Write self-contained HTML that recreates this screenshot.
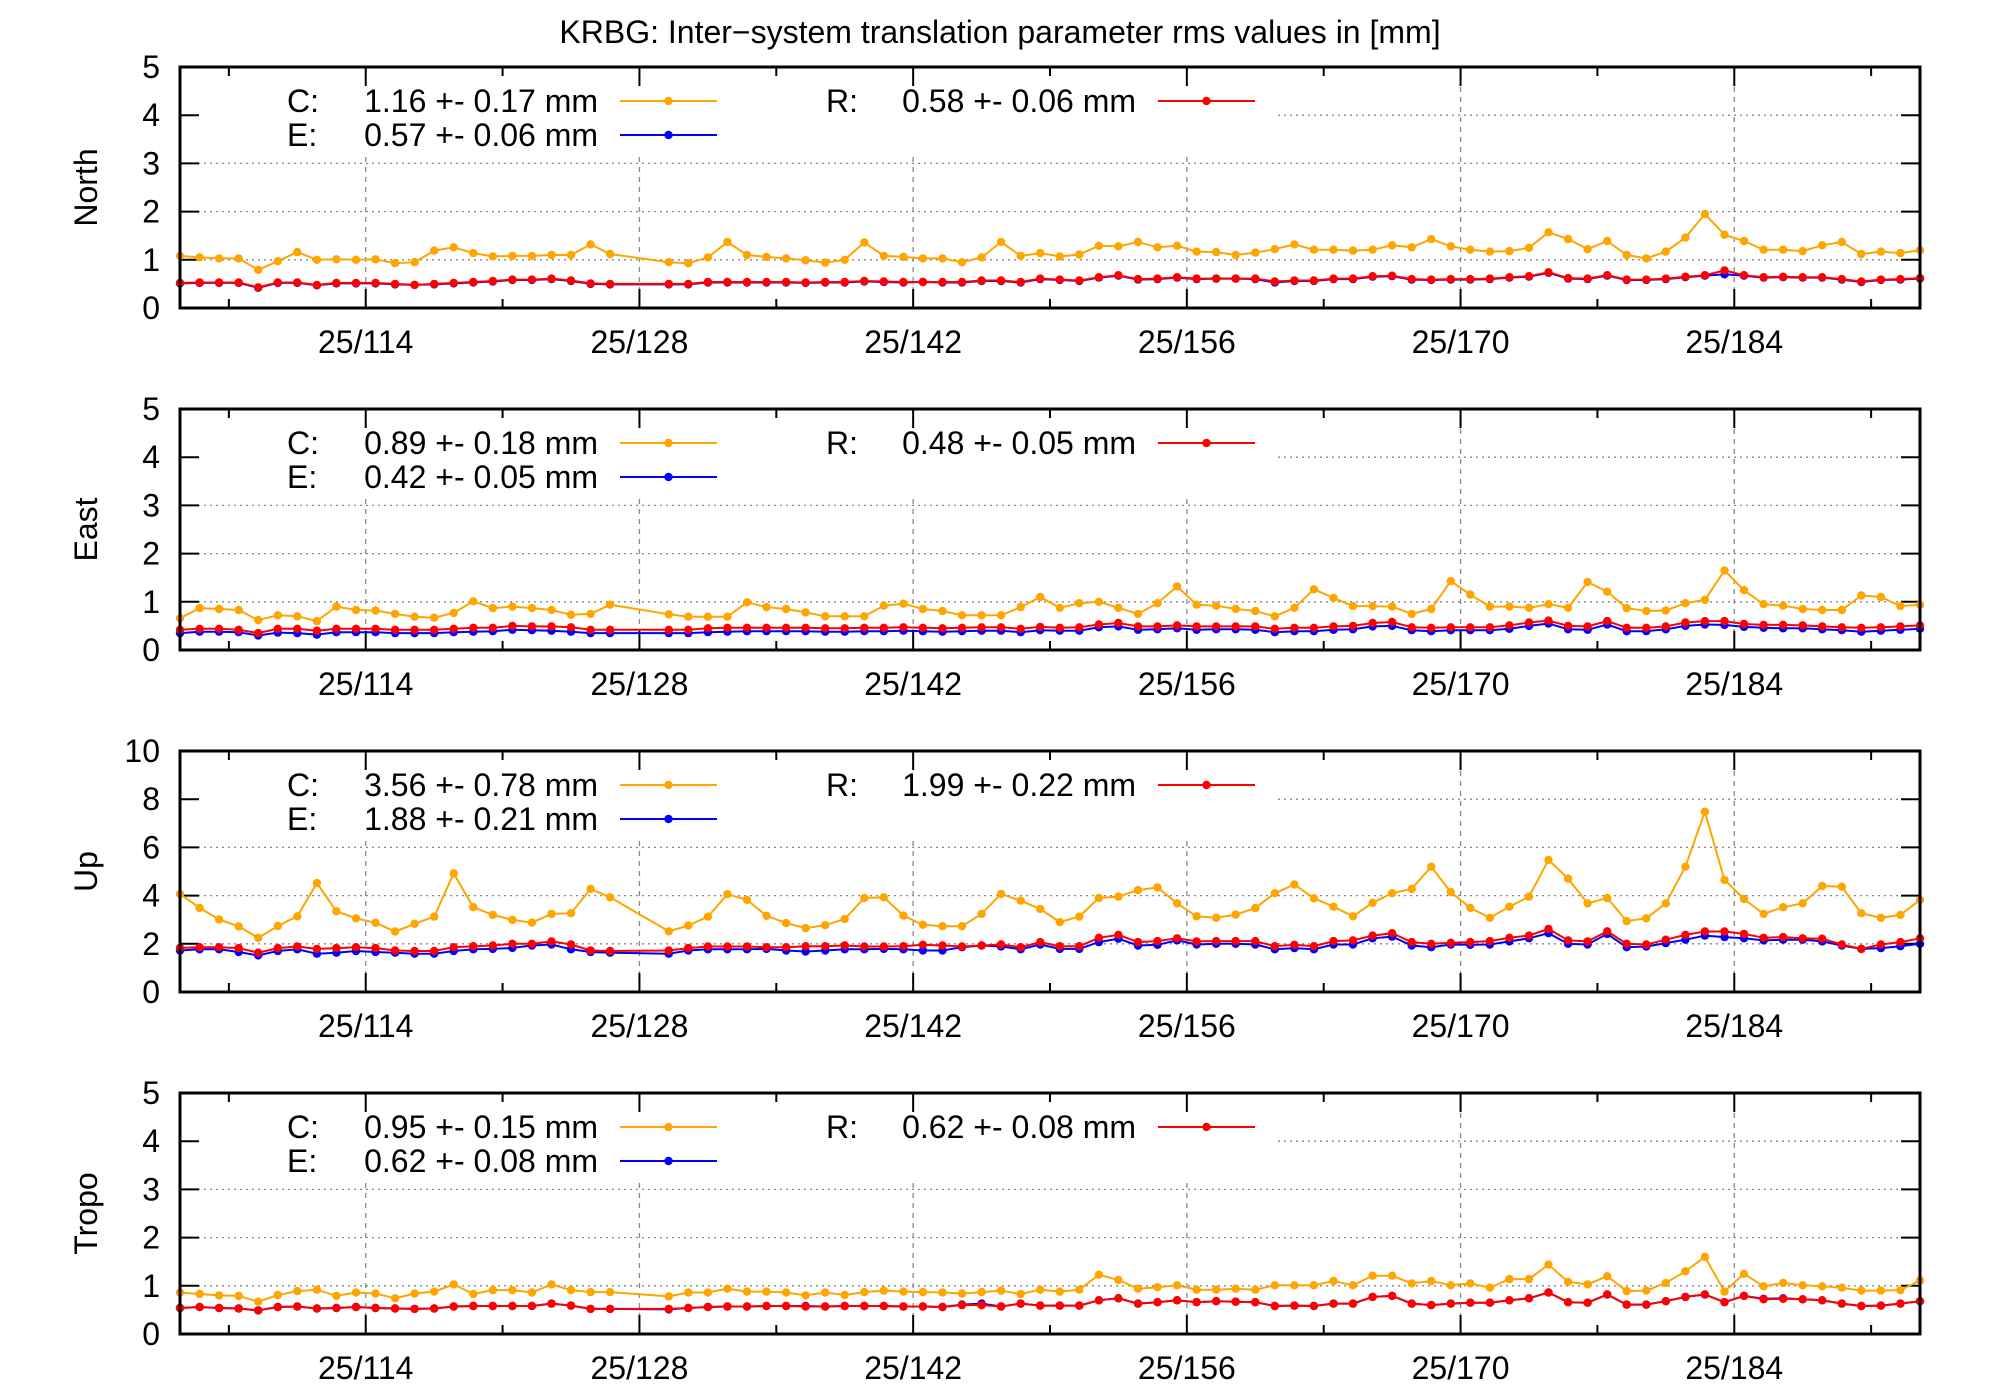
<!DOCTYPE html>
<html><head><meta charset="utf-8"><title>KRBG inter-system translation rms</title>
<style>html,body{margin:0;padding:0;background:#fff;}svg{display:block;font-family:"Liberation Sans",Arial,sans-serif;}</style>
</head><body>
<svg id="chart" width="2000" height="1400" viewBox="0 0 2000 1400" xmlns="http://www.w3.org/2000/svg">
<text x="1000" y="43" text-anchor="middle" font-size="32">KRBG: Inter−system translation parameter rms values in [mm]</text>
</svg>
<script>
const dayStart = 104.5;
const panelNames = ["North","East","Up","Tropo"];
const panelYMax = [5,5,10,5];
const panelYStep = [1,1,2,1];
const xTickDays = [114,128,142,156,170,184];
const xTickLabels = ["25/114","25/128","25/142","25/156","25/170","25/184"];
const xMinorDays = [107,121,135,149,163,177,191];
const legendC = ["1.16 +- 0.17 mm","0.89 +- 0.18 mm","3.56 +- 0.78 mm","0.95 +- 0.15 mm"];
const legendE = ["0.57 +- 0.06 mm","0.42 +- 0.05 mm","1.88 +- 0.21 mm","0.62 +- 0.08 mm"];
const legendR = ["0.58 +- 0.06 mm","0.48 +- 0.05 mm","1.99 +- 0.22 mm","0.62 +- 0.08 mm"];

const northC = [1.08,1.05,1.03,1.03,0.79,0.97,1.16,1.00,1.01,1.00,1.01,0.93,0.95,1.19,1.26,1.14,1.07,1.08,1.08,1.10,1.10,1.32,1.12,null,null,0.95,0.93,1.05,1.37,1.10,1.06,1.03,0.99,0.94,1.00,1.36,1.08,1.06,1.03,1.03,0.95,1.05,1.37,1.08,1.14,
1.07,1.11,1.29,1.28,1.37,1.26,1.29,1.17,1.16,1.10,1.15,1.22,1.32,1.21,1.21,1.19,1.21,1.30,1.26,1.43,1.28,1.21,1.17,1.18,1.25,1.57,1.43,1.22,1.39,1.10,1.03,1.17,1.46,1.95,1.52,1.39,1.21,1.21,1.18,1.30,1.37,1.12,1.17,1.14,1.20];
const northE = [0.51,0.52,0.52,0.52,0.42,0.52,0.52,0.47,0.51,0.51,0.51,0.49,0.48,0.49,0.51,0.53,0.55,0.58,0.58,0.60,0.56,0.50,0.49,null,null,0.49,0.49,0.53,0.53,0.53,0.53,0.53,0.52,0.53,0.53,0.55,0.54,0.53,0.54,0.53,0.53,0.56,0.56,0.53,0.60,
0.58,0.56,0.63,0.67,0.59,0.60,0.63,0.60,0.61,0.61,0.60,0.53,0.56,0.56,0.60,0.60,0.65,0.66,0.59,0.58,0.59,0.59,0.60,0.63,0.65,0.73,0.61,0.60,0.67,0.58,0.58,0.60,0.64,0.67,0.70,0.67,0.63,0.64,0.63,0.63,0.59,0.54,0.58,0.59,0.61];
const northR = [0.52,0.53,0.53,0.53,0.43,0.53,0.53,0.48,0.52,0.52,0.52,0.50,0.48,0.50,0.52,0.54,0.56,0.59,0.59,0.61,0.57,0.51,0.50,null,null,0.50,0.50,0.54,0.54,0.54,0.54,0.54,0.53,0.54,0.54,0.56,0.55,0.54,0.54,0.54,0.54,0.57,0.57,0.54,0.61,
0.59,0.57,0.64,0.68,0.60,0.61,0.64,0.61,0.61,0.61,0.61,0.55,0.57,0.57,0.61,0.61,0.66,0.67,0.60,0.59,0.60,0.60,0.61,0.64,0.66,0.74,0.62,0.61,0.68,0.59,0.59,0.61,0.65,0.68,0.78,0.68,0.64,0.65,0.64,0.64,0.60,0.55,0.59,0.60,0.62];

const eastC = [0.66,0.87,0.85,0.83,0.62,0.72,0.70,0.60,0.90,0.83,0.82,0.75,0.69,0.67,0.77,1.01,0.87,0.90,0.87,0.83,0.73,0.75,0.94,null,null,0.74,0.69,0.69,0.69,0.99,0.89,0.85,0.78,0.70,0.70,0.70,0.92,0.96,0.85,0.81,0.72,0.72,0.72,0.89,1.10,
0.875,0.97,1.00,0.875,0.75,0.97,1.32,0.94,0.92,0.85,0.81,0.70,0.875,1.26,1.08,0.91,0.91,0.90,0.75,0.85,1.43,1.15,0.90,0.90,0.875,0.95,0.875,1.41,1.21,0.87,0.81,0.82,0.97,1.04,1.65,1.24,0.95,0.92,0.85,0.83,0.83,1.13,1.10,0.91,0.94];
const eastE = [0.35,0.38,0.38,0.37,0.30,0.36,0.35,0.32,0.37,0.37,0.37,0.35,0.35,0.35,0.37,0.38,0.39,0.42,0.41,0.40,0.38,0.35,0.35,null,null,0.35,0.35,0.37,0.38,0.39,0.39,0.39,0.39,0.38,0.38,0.39,0.39,0.40,0.39,0.38,0.39,0.40,0.40,0.37,0.41,
0.40,0.40,0.47,0.49,0.42,0.43,0.45,0.42,0.43,0.43,0.42,0.37,0.39,0.39,0.42,0.43,0.49,0.50,0.41,0.39,0.41,0.41,0.41,0.44,0.50,0.55,0.43,0.42,0.53,0.39,0.39,0.43,0.50,0.53,0.52,0.48,0.46,0.45,0.45,0.43,0.41,0.38,0.40,0.42,0.44];
const eastR = [0.42,0.44,0.44,0.42,0.35,0.44,0.44,0.40,0.44,0.44,0.44,0.42,0.42,0.42,0.44,0.46,0.46,0.50,0.49,0.49,0.47,0.42,0.42,null,null,0.42,0.42,0.45,0.46,0.46,0.46,0.46,0.46,0.45,0.45,0.46,0.46,0.47,0.46,0.45,0.46,0.47,0.47,0.44,0.48,
0.46,0.47,0.53,0.56,0.49,0.49,0.51,0.49,0.49,0.49,0.49,0.44,0.46,0.46,0.49,0.50,0.56,0.58,0.47,0.46,0.47,0.47,0.47,0.51,0.57,0.61,0.50,0.49,0.60,0.46,0.46,0.49,0.57,0.60,0.60,0.54,0.52,0.52,0.51,0.49,0.47,0.46,0.47,0.49,0.51];

const upC = [4.07,3.49,3.01,2.72,2.25,2.74,3.14,4.52,3.35,3.06,2.87,2.51,2.83,3.13,4.92,3.52,3.20,2.99,2.88,3.24,3.27,4.28,3.93,null,null,2.52,2.76,3.13,4.06,3.82,3.16,2.86,2.65,2.77,3.03,3.90,3.93,3.17,2.79,2.73,2.73,3.24,4.07,3.79,3.45,
2.90,3.13,3.90,3.96,4.23,4.34,3.68,3.14,3.08,3.21,3.48,4.10,4.46,3.89,3.54,3.14,3.70,4.10,4.28,5.20,4.14,3.49,3.08,3.54,3.96,5.48,4.70,3.68,3.90,2.94,3.06,3.68,5.20,7.48,4.65,3.86,3.24,3.52,3.68,4.40,4.37,3.27,3.08,3.20,3.82];
const upE = [1.72,1.77,1.77,1.66,1.52,1.70,1.77,1.59,1.63,1.70,1.66,1.63,1.59,1.59,1.70,1.77,1.79,1.83,1.93,1.97,1.77,1.66,1.63,null,null,1.59,1.72,1.77,1.77,1.77,1.79,1.72,1.68,1.72,1.77,1.77,1.79,1.77,1.72,1.72,1.86,1.93,1.89,1.77,1.97,
1.79,1.79,2.07,2.21,1.93,1.96,2.14,1.97,2.00,2.00,1.97,1.77,1.82,1.77,1.97,1.97,2.23,2.30,1.93,1.86,1.97,1.96,1.97,2.10,2.23,2.44,2.00,1.97,2.41,1.86,1.89,2.03,2.17,2.34,2.28,2.23,2.14,2.17,2.17,2.10,1.93,1.79,1.82,1.90,2.00];
const upR = [1.83,1.86,1.86,1.82,1.63,1.82,1.89,1.79,1.82,1.86,1.82,1.72,1.70,1.70,1.86,1.90,1.93,2.00,2.00,2.10,1.97,1.72,1.70,null,null,1.72,1.82,1.89,1.89,1.89,1.86,1.86,1.90,1.90,1.93,1.89,1.89,1.90,1.96,1.93,1.89,1.93,1.97,1.86,2.07,
1.90,1.90,2.25,2.37,2.07,2.11,2.23,2.10,2.11,2.11,2.11,1.90,1.96,1.90,2.11,2.14,2.34,2.44,2.07,2.00,2.04,2.07,2.11,2.25,2.34,2.62,2.14,2.10,2.52,2.00,1.97,2.17,2.37,2.51,2.51,2.41,2.25,2.28,2.23,2.21,1.97,1.79,1.97,2.07,2.23];

const tropoC = [0.86,0.83,0.80,0.79,0.67,0.81,0.89,0.92,0.79,0.86,0.84,0.74,0.84,0.88,1.03,0.83,0.91,0.91,0.86,1.03,0.91,0.87,0.87,null,null,0.78,0.86,0.86,0.94,0.88,0.88,0.86,0.80,0.86,0.81,0.87,0.90,0.88,0.87,0.86,0.84,0.87,0.90,0.83,0.92,
0.88,0.92,1.23,1.12,0.94,0.97,1.01,0.92,0.92,0.94,0.92,1.01,1.01,1.01,1.10,1.01,1.21,1.21,1.05,1.10,1.01,1.05,0.96,1.14,1.14,1.44,1.08,1.03,1.20,0.89,0.90,1.06,1.30,1.60,0.88,1.25,0.99,1.06,1.01,0.99,0.96,0.90,0.90,0.91,1.11];
const tropoE = [0.54,0.56,0.54,0.53,0.49,0.56,0.57,0.53,0.54,0.56,0.54,0.53,0.52,0.53,0.57,0.58,0.58,0.58,0.58,0.63,0.59,0.52,0.52,null,null,0.51,0.54,0.56,0.57,0.57,0.58,0.58,0.58,0.57,0.58,0.58,0.58,0.57,0.57,0.56,0.61,0.63,0.57,0.63,0.59,
0.59,0.59,0.70,0.74,0.63,0.66,0.70,0.66,0.68,0.67,0.66,0.58,0.59,0.58,0.63,0.63,0.77,0.79,0.63,0.60,0.63,0.65,0.65,0.70,0.74,0.86,0.66,0.65,0.82,0.61,0.61,0.68,0.77,0.82,0.66,0.79,0.73,0.74,0.72,0.70,0.63,0.58,0.59,0.63,0.68];
const tropoR = [0.54,0.56,0.54,0.53,0.49,0.56,0.57,0.53,0.54,0.56,0.54,0.53,0.52,0.53,0.57,0.58,0.58,0.58,0.58,0.63,0.59,0.52,0.52,null,null,0.52,0.54,0.56,0.57,0.57,0.58,0.58,0.57,0.57,0.58,0.58,0.58,0.57,0.57,0.56,0.60,0.60,0.57,0.63,0.59,
0.59,0.59,0.70,0.74,0.63,0.66,0.70,0.66,0.68,0.67,0.66,0.58,0.59,0.58,0.63,0.63,0.77,0.79,0.63,0.60,0.63,0.65,0.65,0.70,0.74,0.86,0.66,0.65,0.82,0.61,0.61,0.68,0.77,0.82,0.66,0.79,0.72,0.73,0.72,0.70,0.63,0.58,0.59,0.63,0.68];

const seriesC = [northC,eastC,upC,tropoC];
const seriesE = [northE,eastE,upE,tropoE];
const seriesR = [northR,eastR,upR,tropoR];

const NS = "http://www.w3.org/2000/svg";
const svg = document.getElementById("chart");
const L = 180, R = 1920, PH = 241;
const tops = [67,409,751,1093];
const xDomain = [104.5, 193.5];
function xScale(d){ return L + (d - xDomain[0]) / (xDomain[1]-xDomain[0]) * (R-L); }
function mk(tag, attrs, parent){ const e=document.createElementNS(NS,tag); for(const k in attrs) e.setAttribute(k,attrs[k]); (parent||svg).appendChild(e); return e; }

function drawSeries(g, vals, color, yS, name){
  const sg = mk("g",{},g);
  
  
  let seg = [];
  const segs = [];
  vals.forEach((v,i)=>{ if(v===null){ if(seg.length) segs.push(seg); seg=[]; } else seg.push([xScale(dayStart+i), yS(v)]); });
  if(seg.length) segs.push(seg);
  // gnuplot connects across missing? reference shows connected line across gap
  const all = [];
  vals.forEach((v,i)=>{ if(v!==null) all.push([xScale(dayStart+i), yS(v)]); });
  const pl = mk("polyline",{points:all.map(p=>p[0].toFixed(1)+","+p[1].toFixed(1)).join(" "),fill:"none",stroke:color,"stroke-width":2},sg);
  
  
  all.forEach(p=>{
    const c = mk("circle",{cx:p[0].toFixed(1),cy:p[1].toFixed(1),r:4.2,fill:color},sg);
    
    
  });
}

panelNames.forEach((pn, pi)=>{
  const top = tops[pi], bot = top+PH, ymax = panelYMax[pi];
  const yS = v => bot - v/ymax*PH;
  const g = mk("g",{});
  
  
  // grid
  for(let v=panelYStep[pi]; v<ymax; v+=panelYStep[pi]){
    const gl = mk("line",{x1:L,x2:R,y1:yS(v),y2:yS(v),stroke:"#888","stroke-width":1.3,"stroke-dasharray":"2,4"},g);
    
    
  }
  xTickDays.forEach(d=>{
    const gl = mk("line",{x1:xScale(d),x2:xScale(d),y1:top,y2:bot,stroke:"#888","stroke-width":1.3,"stroke-dasharray":"5,5"},g);
    
    
  });
  // legend box mask
  const m = mk("rect",{x:L+2,y:top+14,width:1275-L,height:72,fill:"#fff"},g);
  
  
  // ticks
  for(let v=0; v<=ymax; v+=panelYStep[pi]){
    mk("line",{x1:L,x2:L+19,y1:yS(v),y2:yS(v),stroke:"#000","stroke-width":2},g);
    mk("line",{x1:R-19,x2:R,y1:yS(v),y2:yS(v),stroke:"#000","stroke-width":2},g);
    const t = mk("text",{x:160,y:yS(v)+11,"text-anchor":"end","font-size":32},g);
    t.textContent = String(v);
    
    
  }
  xTickDays.forEach((d,k)=>{
    mk("line",{x1:xScale(d),x2:xScale(d),y1:bot,y2:bot-19,stroke:"#000","stroke-width":2},g);
    mk("line",{x1:xScale(d),x2:xScale(d),y1:top,y2:top+19,stroke:"#000","stroke-width":2},g);
    const t = mk("text",{x:xScale(d),y:bot+45,"text-anchor":"middle","font-size":32},g);
    t.textContent = xTickLabels[k];
    
    
  });
  xMinorDays.forEach(d=>{
    mk("line",{x1:xScale(d),x2:xScale(d),y1:bot,y2:bot-9,stroke:"#000","stroke-width":2},g);
    mk("line",{x1:xScale(d),x2:xScale(d),y1:top,y2:top+9,stroke:"#000","stroke-width":2},g);
  });
  // y label
  const yl = mk("text",{x:0,y:0,"text-anchor":"middle","font-size":32,transform:`translate(97,${top+PH/2}) rotate(-90)`},g);
  yl.textContent = pn;
  
  
  // series
  drawSeries(g, seriesC[pi], "#FFA500", yS, "series-c");
  drawSeries(g, seriesE[pi], "#0000FF", yS, "series-e");
  drawSeries(g, seriesR[pi], "#FF0000", yS, "series-r");
  // legend
  const leg = [[legendC[pi],"C:",287,598,620,717,top+34,"#FFA500"],[legendE[pi],"E:",287,598,620,717,top+68,"#0000FF"],[legendR[pi],"R:",826,1136,1158,1255,top+34,"#FF0000"]];
  leg.forEach(l=>{
    const lg = mk("g",{},g);
    
    
    const a = mk("text",{x:l[2],y:l[6]+11,"font-size":32},lg); a.textContent=l[1];
    const b = mk("text",{x:l[3],y:l[6]+11,"font-size":32,"text-anchor":"end"},lg); b.textContent=l[0];
    mk("line",{x1:l[4],x2:l[5],y1:l[6],y2:l[6],stroke:l[7],"stroke-width":2},lg);
    mk("circle",{cx:(l[4]+l[5])/2,cy:l[6],r:4.2,fill:l[7]},lg);
  });
  // border
  const bd = mk("rect",{x:L,y:top,width:R-L,height:PH,fill:"none",stroke:"#000","stroke-width":3},g);
  
  
});
</script>
</body></html>
